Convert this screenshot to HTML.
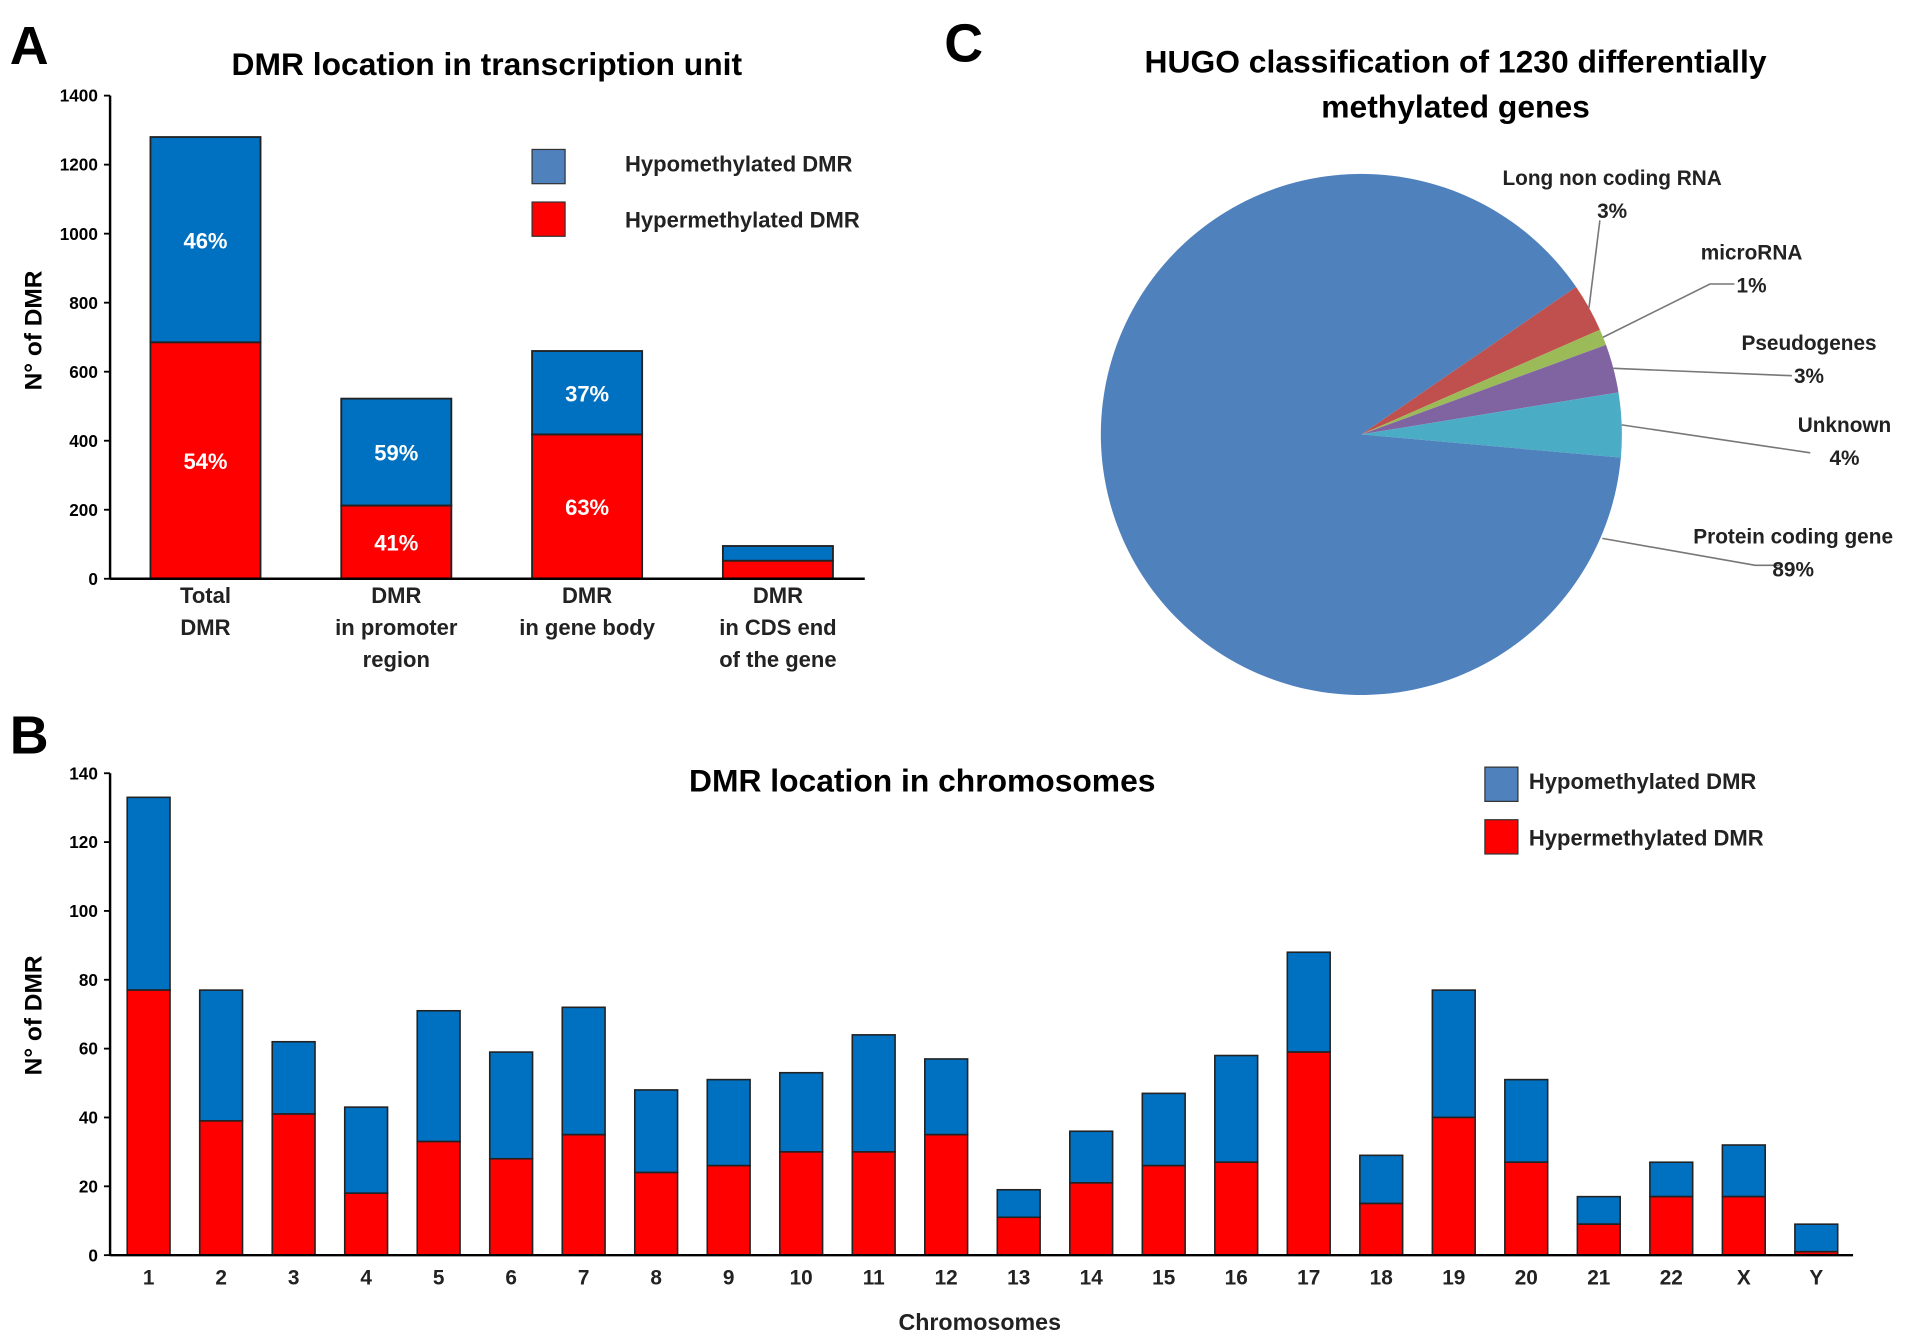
<!DOCTYPE html>
<html><head><meta charset="utf-8"><style>
html,body{margin:0;padding:0;background:#fff;}
svg{display:block;font-family:"Liberation Sans",sans-serif;font-weight:bold;}
</style></head><body>
<svg id="fig" width="1913" height="1341" viewBox="0 0 1564 1096">
<text x="8" y="52" font-size="44">A</text>
<text x="772" y="50" font-size="44">C</text>
<text x="8" y="616" font-size="44">B</text>
<g id="chartA"></g>
<g id="chartB"></g>
<g id="chartC"></g>
</svg>
<script>
const NS="http://www.w3.org/2000/svg";
const BLUE="#0070C0",RED="#FF0000";
function mk(p,tag,at,txt){const e=document.createElementNS(NS,tag);for(const k in at)e.setAttribute(k,at[k]);if(txt!==undefined)e.textContent=txt;p.appendChild(e);return e;}

// ---- Chart A data
const aCategories=[["Total","DMR"],["DMR","in promoter","region"],["DMR","in gene body"],["DMR","in CDS end","of the gene"]];
const aHyper=[685,212,418,52];
const aTotal=[1280,522,660,95];
const aHypoPct=["46%","59%","37%",""];
const aHyperPct=["54%","41%","63%",""];
const aTicks=[0,200,400,600,800,1000,1200,1400];

// ---- Chart B data
const bCategories=["1","2","3","4","5","6","7","8","9","10","11","12","13","14","15","16","17","18","19","20","21","22","X","Y"];
const bTotal=[133,77,62,43,71,59,72,48,51,53,64,57,19,36,47,58,88,29,77,51,17,27,32,9];
const bHyper=[77,39,41,18,33,28,35,24,26,30,30,35,11,21,26,27,59,15,40,27,9,17,17,1];
const bTicks=[0,20,40,60,80,100,120,140];

// ---- Chart C data
const cLabels=["Long non coding RNA","microRNA","Pseudogenes","Unknown","Protein coding gene"];
const cValues=[3,1,3,4,89];
const cPctLabels=["3%","1%","3%","4%","89%"];

// Chart A
(function(){
const g=document.getElementById('chartA');
const y0=473,y1=78,x0=90,x1=707,max=1400;
const ys=v=>y0-(v/max)*(y0-y1);
const xs=i=>168+i*156, bw=90;
mk(g,'text',{x:398,y:61,'font-size':26,'text-anchor':'middle'},"DMR location in transcription unit");
aTicks.forEach(t=>{const e=mk(g,'text',{x:80,y:ys(t)+5,'font-size':14,'text-anchor':'end'},t);

mk(g,'line',{x1:x0-5,x2:x0,y1:ys(t),y2:ys(t),stroke:'#000','stroke-width':1.5});});
const yt=mk(g,'text',{x:0,y:0,'font-size':20,'text-anchor':'middle',transform:`translate(34,270) rotate(-90)`},"N° of DMR");

aTotal.forEach((tot,i)=>{const cx=xs(i);
const b1=mk(g,'rect',{x:cx-bw/2,y:ys(tot),width:bw,height:ys(aHyper[i])-ys(tot),fill:BLUE,stroke:'#222','stroke-width':1.5});

const b2=mk(g,'rect',{x:cx-bw/2,y:ys(aHyper[i]),width:bw,height:y0-ys(aHyper[i]),fill:RED,stroke:'#222','stroke-width':1.5});

if(aHypoPct[i])mk(g,'text',{x:cx,y:(ys(tot)+ys(aHyper[i]))/2+7,'font-size':18,'text-anchor':'middle',fill:'#fff'},aHypoPct[i]);
if(aHyperPct[i])mk(g,'text',{x:cx,y:(ys(aHyper[i])+y0)/2+7,'font-size':18,'text-anchor':'middle',fill:'#fff'},aHyperPct[i]);
aCategories[i].forEach((l,j)=>{const e=mk(g,'text',{x:cx,y:493+j*26,'font-size':18,'text-anchor':'middle',fill:'#222'},l);
});
});
mk(g,'line',{x1:x0,x2:x0,y1:y1,y2:y0,stroke:'#000','stroke-width':2});
mk(g,'line',{x1:x0,x2:x1,y1:y0,y2:y0,stroke:'#000','stroke-width':2});
const l1=mk(g,'rect',{x:435,y:122,width:27,height:28,fill:'#4F81BD',stroke:'#333'});

mk(g,'text',{x:511,y:140,'font-size':18,fill:'#222'},"Hypomethylated DMR");
const l2=mk(g,'rect',{x:435,y:165,width:27,height:28,fill:RED,stroke:'#333'});

mk(g,'text',{x:511,y:186,'font-size':18,fill:'#222'},"Hypermethylated DMR");
})();

// Chart B
(function(){
const g=document.getElementById('chartB');
const y0=1026,y1=632,x0=90,x1=1515,max=140;
const ys=v=>y0-(v/max)*(y0-y1);
const xs=i=>121.5+i*59.28, bw=35;
mk(g,'text',{x:754,y:647,'font-size':26,'text-anchor':'middle'},"DMR location in chromosomes");
bTicks.forEach(t=>{const e=mk(g,'text',{x:80,y:ys(t)+5,'font-size':14,'text-anchor':'end'},t);

mk(g,'line',{x1:x0-5,x2:x0,y1:ys(t),y2:ys(t),stroke:'#000','stroke-width':1.5});});
const yt=mk(g,'text',{x:0,y:0,'font-size':20,'text-anchor':'middle',transform:`translate(34,830) rotate(-90)`},"N° of DMR");

bTotal.forEach((tot,i)=>{const cx=xs(i);
const b1=mk(g,'rect',{x:cx-bw/2,y:ys(tot),width:bw,height:ys(bHyper[i])-ys(tot),fill:BLUE,stroke:'#222','stroke-width':1.3});

const b2=mk(g,'rect',{x:cx-bw/2,y:ys(bHyper[i]),width:bw,height:y0-ys(bHyper[i]),fill:RED,stroke:'#222','stroke-width':1.3});

const e=mk(g,'text',{x:cx,y:1050,'font-size':17,'text-anchor':'middle',fill:'#222'},bCategories[i]);

});
mk(g,'line',{x1:x0,x2:x0,y1:y1,y2:y0,stroke:'#000','stroke-width':2});
mk(g,'line',{x1:x0,x2:x1,y1:y0,y2:y0,stroke:'#000','stroke-width':2});
const xt=mk(g,'text',{x:801,y:1087,'font-size':19,'text-anchor':'middle',fill:'#222'},"Chromosomes");

const l1=mk(g,'rect',{x:1214,y:627,width:27,height:28,fill:'#4F81BD',stroke:'#333'});

mk(g,'text',{x:1250,y:645,'font-size':18,fill:'#222'},"Hypomethylated DMR");
const l2=mk(g,'rect',{x:1214,y:670,width:27,height:28,fill:RED,stroke:'#333'});

mk(g,'text',{x:1250,y:691,'font-size':18,fill:'#222'},"Hypermethylated DMR");
})();

// Chart C
(function(){
const g=document.getElementById('chartC');
const cx=1113,cy=355,r=213;
const colors=["#C0504D","#9BBB59","#8064A2","#4BACC6","#4F81BD"];
mk(g,'text',{x:1190,y:59,'font-size':26,'text-anchor':'middle'},"HUGO classification of 1230 differentially");
mk(g,'text',{x:1190,y:96,'font-size':26,'text-anchor':'middle'},"methylated genes");
const sum=cValues.reduce((a,b)=>a+b,0);
let a=-34.5*Math.PI/180;
const lab=[{lx:1318,ly:151,p:[[1308,180]]},{lx:1432,ly:212,p:[[1398,232],[1418,232]]},{lx:1479,ly:286,p:[[1465,307]]},{lx:1508,ly:353,p:[[1480,370]]},{lx:1466,ly:444,p:[[1435,462],[1455,462]],s:[1310,440]}];
cValues.forEach((v,i)=>{const da=v/sum*2*Math.PI;const a2=a+da;
const x1=cx+r*Math.cos(a),y1=cy+r*Math.sin(a),x2=cx+r*Math.cos(a2),y2=cy+r*Math.sin(a2);
const s=mk(g,'path',{d:`M${cx},${cy}L${x1},${y1}A${r},${r} 0 ${da>Math.PI?1:0} 1 ${x2},${y2}Z`,fill:colors[i]});

const m=(a+a2)/2;const L=lab[i];
const ex=L.s?L.s[0]:cx+r*Math.cos(m),ey=L.s?L.s[1]:cy+r*Math.sin(m);
let d=`M${ex},${ey}`;L.p.forEach(q=>d+=`L${q[0]},${q[1]}`);
mk(g,'path',{d:d,fill:'none',stroke:'#777','stroke-width':1.3});
const t=mk(g,'text',{x:L.lx,y:L.ly,'font-size':17,'text-anchor':'middle',fill:'#222'},cLabels[i]);

mk(g,'text',{x:L.lx,y:L.ly+27,'font-size':17,'text-anchor':'middle',fill:'#222'},cPctLabels[i]);
a=a2;});
})();
</script>
</body></html>
